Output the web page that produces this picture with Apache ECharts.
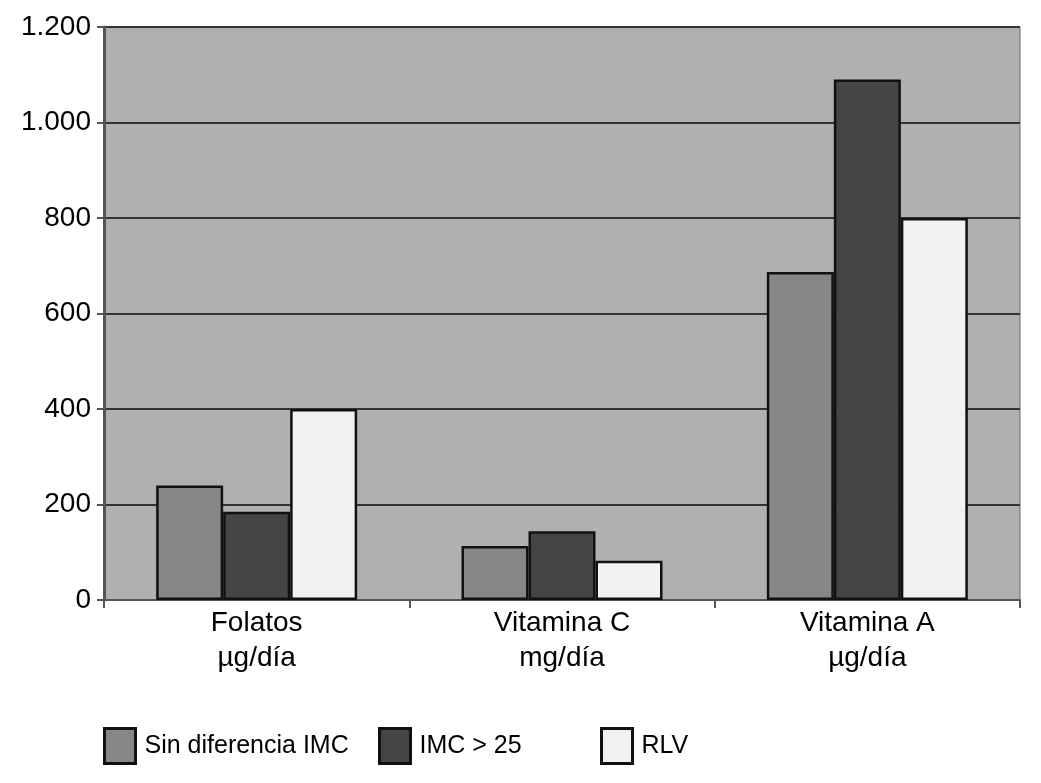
<!DOCTYPE html>
<html><head><meta charset="utf-8">
<script src="https://cdn.jsdelivr.net/npm/echarts@6/dist/echarts.min.js"></script>
<style>html,body{margin:0;padding:0;background:#fff}#c{width:1041px;height:783px}</style>
</head><body><div id="c"></div>
<script>
const categories = ['Folatos\nµg/día', 'Vitamina C\nmg/día', 'Vitamina A\nµg/día'];
const seriesNames = ['Sin diferencia IMC', 'IMC > 25', 'RLV'];
const sinDiferencia = [240, 113, 687];
const imcMayor25 = [185, 144, 1090];
const rlv = [400, 82, 800];
const colors = ['#878787', '#454545', '#f2f2f2'];

const chart = echarts.init(document.getElementById('c'), null, {renderer: 'canvas'});
const font = 'Liberation Sans, Arial, sans-serif';
const vals = [sinDiferencia, imcMayor25, rlv];
const legendLeft = [103, 378, 600];
chart.setOption({
  animation: false,
  textStyle: {fontFamily: font},
  grid: {left: 104, right: 21, top: 27, bottom: 183, show: true, backgroundColor: '#b0b0b0', borderColor: '#6a6a6a', borderWidth: 1},
  legend: seriesNames.map((n, i) => ({
    data: [n], left: legendLeft[i], top: 727, padding: 0, itemWidth: 31, itemHeight: 35, itemGap: 0,
    icon: 'rect',
    textStyle: {fontSize: 25, color: '#000', fontFamily: 'Liberation Sans Narrow, Liberation Sans, sans-serif', padding: [0,0,0,4]},
    itemStyle: {borderColor: '#111', borderWidth: 3}
  })),
  xAxis: {
    type: 'category', data: categories,
    axisLine: {lineStyle: {color: '#555', width: 2}},
    axisTick: {show: true, length: 8, lineStyle: {color: '#555', width: 2}},
    axisLabel: {fontSize: 28, color: '#000', lineHeight: 35, margin: 6}
  },
  yAxis: {
    type: 'value', min: 0, max: 1200, interval: 200,
    axisLine: {show: true, lineStyle: {color: '#555', width: 3}},
    axisTick: {show: true, length: 7, lineStyle: {color: '#555', width: 2}},
    axisLabel: {fontSize: 28, color: '#000', margin: 13,
      formatter: v => v >= 1000 ? String(v).replace(/(\d)(\d{3})$/, '$1.$2') : String(v)},
    splitLine: {lineStyle: {color: '#333', width: 2}}
  },
  series: seriesNames.map((n, i) => ({
    name: n, type: 'bar', data: vals[i], barWidth: 67, barGap: '0%',
    itemStyle: {color: colors[i], borderColor: '#111', borderWidth: 2.5}
  }))
});
</script></body></html>
